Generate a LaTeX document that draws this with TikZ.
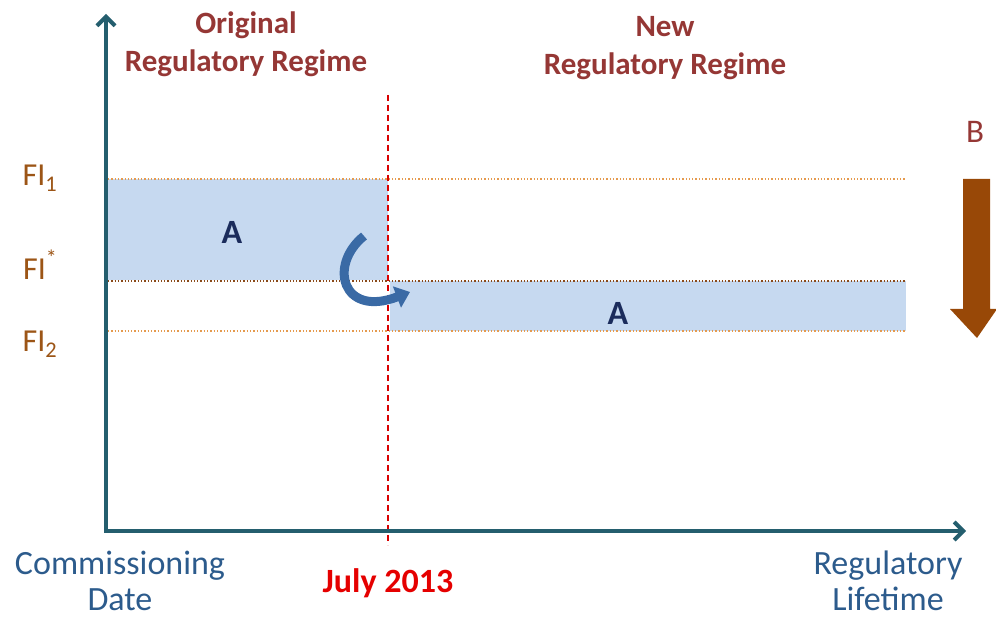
\documentclass[tikz,border=0pt]{standalone}
\usepackage{fontspec}
\setmainfont{Carlito}
\usetikzlibrary{arrows.meta}
\definecolor{axis}{HTML}{245E6E}
\definecolor{boxfill}{HTML}{C6D9F0}
\definecolor{regime}{HTML}{953735}
\definecolor{filab}{HTML}{9C5516}
\definecolor{dotor}{HTML}{E59A4E}
\definecolor{dotdk}{HTML}{8A4A1A}
\definecolor{bluelab}{HTML}{2C5B8C}
\definecolor{navy}{HTML}{1B2C5C}
\definecolor{curv}{HTML}{3A6AA5}
\definecolor{barrow}{HTML}{984807}
\tikzset{
  lab/.style={font=\fontsize{34}{38}\selectfont, text=bluelab, inner sep=0pt, anchor=base},
  fil/.style={font=\fontsize{32}{34}\selectfont, text=filab},
  reg/.style={font=\bfseries\fontsize{31}{38}\selectfont, text=regime, align=center},
  alab/.style={font=\bfseries\fontsize{34}{36}\selectfont, text=navy},
  dotline/.style={dotted, line width=1.3pt},
}
\begin{document}
\begin{tikzpicture}[x=1pt,y=-1pt]
\useasboundingbox (0,0) rectangle (996,620);
% boxes
\fill[boxfill] (108,179) rectangle (388,280);
\fill[boxfill] (390,281) rectangle (906,331);
% dotted levels
\coordinate (l1a) at (108,179); \coordinate (l1b) at (906,179);
\coordinate (lsa) at (108,281); \coordinate (lsb) at (906,281);
\coordinate (l2a) at (108,331); \coordinate (l2b) at (906,331);
\draw[dotline, dotor] (l1a) -- (l1b);
\draw[dotline, dotdk] (lsa) -- (lsb);
\draw[dotline, dotor] (l2a) -- (l2b);
% red dashed
\coordinate (jt) at (388,95); \coordinate (jb) at (388,545);
\draw[red!85!black, dashed, line width=1.5pt, dash pattern=on 6pt off 4pt] (jt) -- (jb);
% axes
\coordinate (o) at (106,531); \coordinate (yt) at (106,14); \coordinate (xt) at (966,531);
\draw[axis, line width=4pt, -{Straight Barb[length=9pt,width=18pt,line width=4pt]}] (o) -- (yt);
\draw[axis, line width=4pt, -{Straight Barb[length=9pt,width=18pt,line width=4pt]}] ([xshift=-2pt]o) -- (xt);
% curved arrow
\coordinate (cs) at (364,236); \coordinate (ce) at (410,292);
\draw[curv, line width=9pt, -{Triangle[length=14pt,width=22pt]}] (cs) .. controls (328,265) and (342,318) .. (ce);
% labels
\node[fil] (fi1) at (40,178) {FI\textsubscript{1}};
\node[fil] (fis) at (40,265) {FI\raisebox{0.9ex}{\fontsize{22}{22}\selectfont *}};
\node[fil] (fi2) at (40,344) {FI\textsubscript{2}};
\node[alab] (a1) at (232,232) {A};
\node[alab] (a2) at (618,313) {A};
\node[reg] (orig) at (246,44) {Original\\Regulatory Regime};
\node[reg] (new) at (665,48) {New\\Regulatory Regime};
\node[font=\fontsize{33}{36}\selectfont, text=regime] (b) at (975,132) {B};
\node[lab] (cd1) at (120,574) {Commissioning};
\node[lab] (cd2) at (120,610) {Date};
\node[lab] (rl1) at (888,574) {Regulatory};
\node[lab] (rl2) at (888,610) {Lifetime};
\node[font=\bfseries\fontsize{34}{36}\selectfont, text=red!90!black] (july) at (388,583) {July 2013};
% brown arrow
\fill[barrow] (963,179) -- (990,179) -- (990,309) -- (997,309) -- (977,338) -- (950,309) -- (963,309) -- cycle;
\end{tikzpicture}
\end{document}
